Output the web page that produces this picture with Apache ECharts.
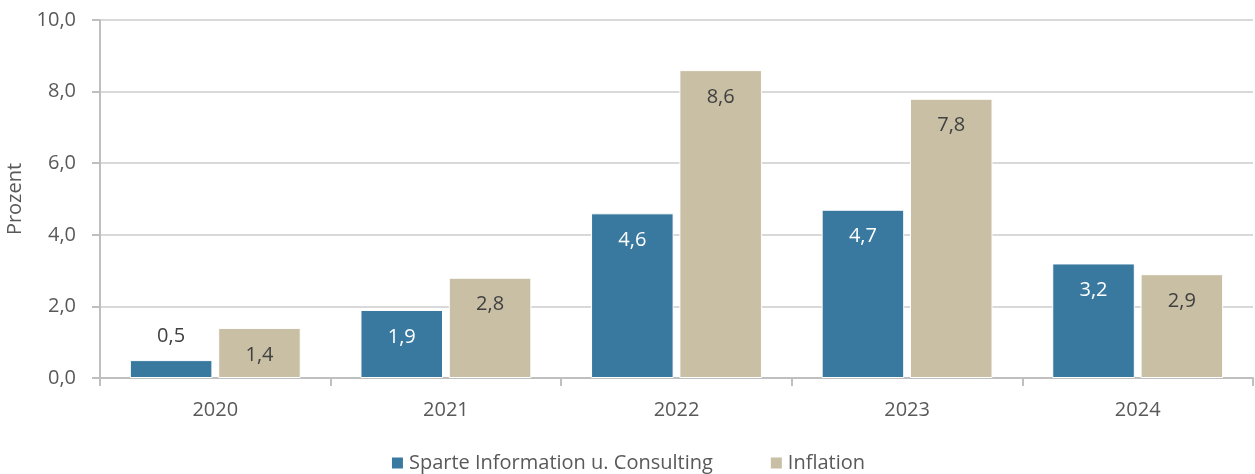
<!DOCTYPE html>
<html><head><meta charset="utf-8">
<script src="https://cdn.jsdelivr.net/npm/echarts@6/dist/echarts.min.js"></script>
<style>html,body{margin:0;padding:0;background:#fff}#c{width:1255px;height:474px}</style>
</head><body><div id="c"></div>
<script>
const categories = ['2020','2021','2022','2023','2024'];
const sparteValues = [0.5, 1.9, 4.6, 4.7, 3.2];
const inflationValues = [1.4, 2.8, 8.6, 7.8, 2.9];
const seriesNames = ['Sparte Information u. Consulting', 'Inflation'];

const fmt = v => v.toFixed(1).replace('.', ',');
const font = 'Open Sans';
const chart = echarts.init(document.getElementById('c'));

function sparteData() {
  return sparteValues.map(v => v < 1 ? {value: v, label: {position: 'top', distance: 14, color: '#404040'}} : v);
}

chart.setOption({
  animation: false,
  textStyle: {fontFamily: font},
  grid: {left: 100, right: 2, top: 20, bottom: 96, outerBoundsMode: 'none', containLabel: false},
  legend: {
    top: 448, left: 'center', itemWidth: 13, itemHeight: 13, itemGap: 56,
    icon: 'rect',
    textStyle: {fontFamily: font, fontSize: 20, color: '#595959'},
    data: seriesNames
  },
  xAxis: {
    type: 'category', data: categories,
    axisLine: {lineStyle: {color: '#bfbfbf', width: 2}},
    axisTick: {show: true, length: 8, lineStyle: {color: '#bfbfbf', width: 2}},
    axisLabel: {fontFamily: font, fontSize: 20, color: '#595959', margin: 22}
  },
  yAxis: {
    type: 'value', min: 0, max: 10, interval: 2,
    name: 'Prozent', nameLocation: 'middle', nameGap: 69, nameRotate: 90,
    nameTextStyle: {fontFamily: font, fontSize: 20, color: '#595959'},
    axisLine: {show: true, lineStyle: {color: '#bfbfbf', width: 2}},
    axisTick: {show: true, length: 8, inside: false, lineStyle: {color: '#bfbfbf', width: 2}},
    splitLine: {lineStyle: {color: '#d9d9d9', width: 2}},
    axisLabel: {fontFamily: font, fontSize: 20, color: '#595959', margin: 24, formatter: v => fmt(v)}
  },
  series: [
    {
      name: seriesNames[0], type: 'bar', data: sparteData(),
      barWidth: '35.8%', barGap: '7%',
      itemStyle: {color: '#3a799f', borderColor: '#ffffff', borderWidth: 1},
      label: {show: true, position: 'insideTop', distance: 17, color: '#ffffff', fontFamily: font, fontSize: 20,
        formatter: p => fmt(p.value)}
    },
    {
      name: seriesNames[1], type: 'bar', data: inflationValues,
      barWidth: '35.8%',
      itemStyle: {color: '#c9bfa5', borderColor: '#ffffff', borderWidth: 1},
      label: {show: true, position: 'insideTop', distance: 17, color: '#404040', fontFamily: font, fontSize: 20,
        formatter: p => fmt(p.value)}
    }
  ]
});
</script></body></html>
